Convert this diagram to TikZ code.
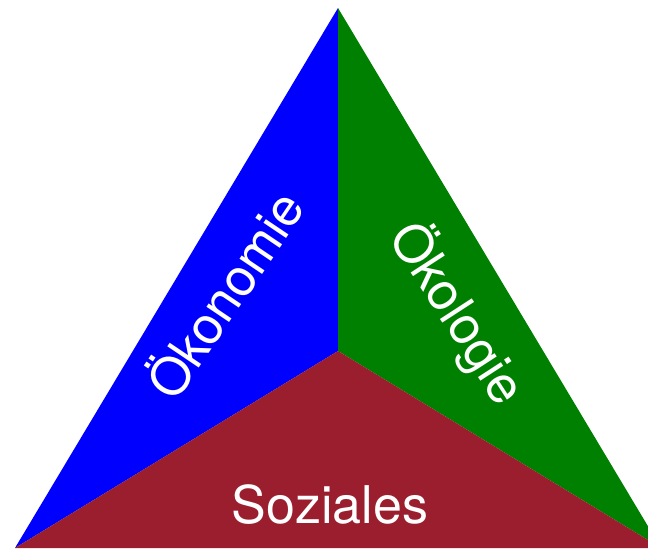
\documentclass[tikz,border=0pt]{standalone}
\usepackage{fontspec}
\setmainfont{TeX Gyre Heros}
\definecolor{sozialrot}{RGB}{155,30,46}
\definecolor{oekogruen}{RGB}{0,128,0}
\definecolor{oekoblau}{RGB}{0,0,255}
\tikzset{
  label/.style={text=white, font=\fontsize{52}{60}\selectfont, inner sep=0pt}
}
\begin{document}
\begin{tikzpicture}[x=1pt, y=-1pt]
	\useasboundingbox (0,0) rectangle (648,549);
	\clip (0,0) rectangle (648,549);
	\coordinate (top) at (338,8);
	\coordinate (left) at (15,548);
	\coordinate (right) at (661,548);
	\coordinate (mid) at (338,351);
	
	\fill[oekoblau] (top) -- (mid) -- (left) -- cycle;
	\fill[oekogruen] (top) -- (right) -- (mid) -- cycle;
	\fill[sozialrot] (mid) -- (right) -- (left) -- cycle;
	
	\node[label, rotate=56] (oekonomie) at (222,293) {Ökonomie};
	\node[label, rotate=-57] (oekologie) at (458,313) {Ökologie};
	\node[label] (soziales) at (330,505) {Soziales};
\end{tikzpicture}
\end{document}
